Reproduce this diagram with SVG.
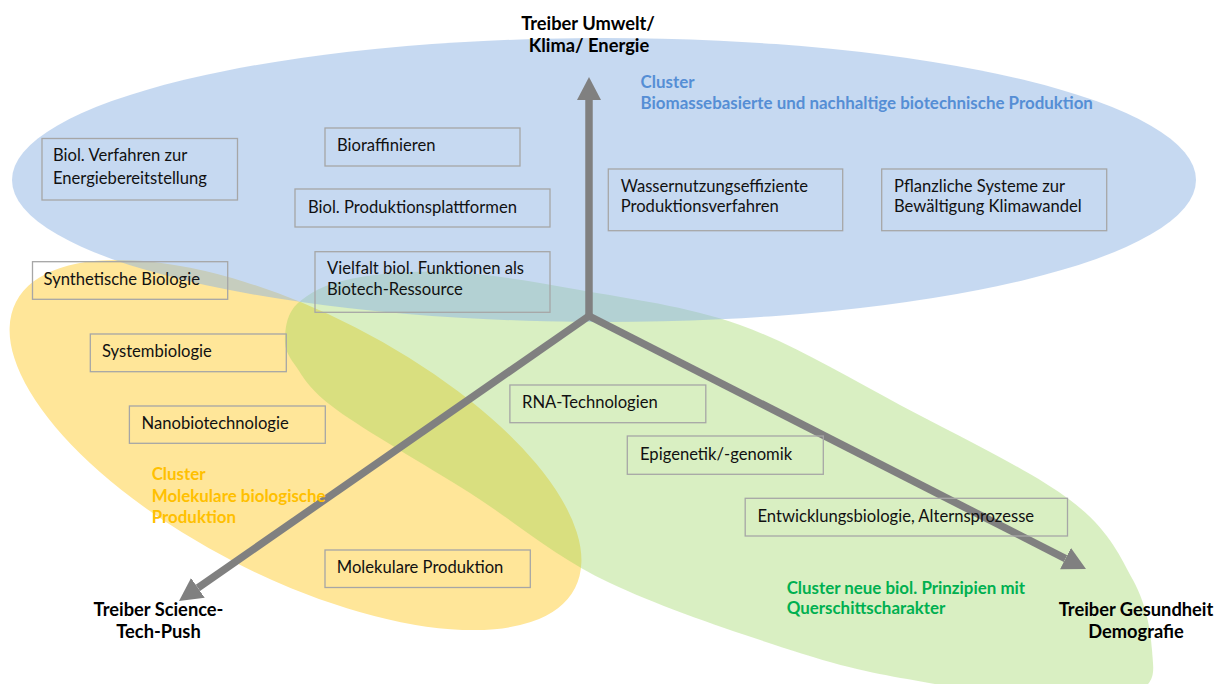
<svg xmlns="http://www.w3.org/2000/svg" width="1222" height="684" viewBox="0 0 1222 684">
<defs>
<style>
.bg{fill:#ffffff}
.box rect{fill:none;stroke:#A6A6A6;stroke-width:1.3}
.box text{font-family:Lato,"Liberation Sans",sans-serif;font-size:16.6px;fill:#111111}
.drv{font-family:Lato,"Liberation Sans",sans-serif;font-weight:bold;font-size:18.3px;fill:#000000;text-anchor:middle}
.cl{font-family:Lato,"Liberation Sans",sans-serif;font-weight:bold;font-size:16.9px}
.axis{stroke:#808080;stroke-width:7.5;fill:none}
</style>
<marker id="ah" viewBox="0 0 23 24" refX="0" refY="12" markerWidth="23" markerHeight="24" markerUnits="userSpaceOnUse" orient="auto">
<path d="M0,0 L23,12 L0,24 Z" fill="#808080"/>
</marker>
</defs>
<rect class="bg" x="0" y="0" width="1222" height="684"/>
<g id="clusters">
<ellipse id="cluster-yellow" cx="295.5" cy="445" rx="314" ry="132" transform="rotate(27.1 295.5 445)" fill="#FFE699"/>
<path id="cluster-green" fill="#92D050" fill-opacity="0.35" d="M285,337 C285.5,326.7 287.2,312.7 298,303 C308.8,293.3 324.7,284.2 350,279 C375.3,273.8 411.7,270.2 450,272 C488.3,273.8 531.7,281.2 580,290 C628.3,298.8 686.7,305.8 740,325 C793.3,344.2 845,375.8 900,405 C955,434.2 1031.2,470.8 1070,500 C1108.8,529.2 1119.3,555 1133,580 C1146.7,605 1150.8,631.7 1152,650 C1153.2,668.3 1157,681.2 1140,690 C1123,698.8 1083.3,703.8 1050,703 C1016.7,702.2 979.5,692.7 940,685 C900.5,677.3 868,674 813,657 C757.8,639.7 667.2,610.3 610,583 C552.8,555.7 515.5,521.8 470,493 C424.5,464.2 366.2,431.3 337,410 C307.8,388.7 303.7,377.2 295,365 C286.3,352.8 284.5,347.3 285,337 Z"/>
<ellipse id="cluster-blue" cx="604" cy="180" rx="592" ry="142" fill="#8EB4E3" fill-opacity="0.5"/>
</g>
<g id="connectors">
<path class="axis" d="M589,316 L589,100" marker-end="url(#ah)"/>
<path class="axis" d="M589,316 L197.9,587.9" marker-end="url(#ah)"/>
<path class="axis" d="M589,316 L1065.5,558.6" marker-end="url(#ah)"/>
<circle cx="589" cy="316" r="3.75" fill="#808080"/>
</g>
<g id="n-energie" class="box"><rect x="42" y="138.5" width="195.5" height="61.5"/><text><tspan x="53" y="161">Biol. Verfahren zur</tspan><tspan x="53" y="184">Energiebereitstellung</tspan></text></g>
<g id="n-bioraff" class="box"><rect x="325" y="128" width="195" height="38"/><text x="337" y="151">Bioraffinieren</text></g>
<g id="n-plattformen" class="box"><rect x="295" y="189" width="255" height="38"/><text x="308" y="213">Biol. Produktionsplattformen</text></g>
<g id="n-vielfalt" class="box"><rect x="315" y="251.7" width="235" height="60.6"/><text><tspan x="327" y="274">Vielfalt biol. Funktionen als</tspan><tspan x="327" y="295">Biotech-Ressource</tspan></text></g>
<g id="n-wasser" class="box"><rect x="608.3" y="169" width="234.4" height="61.7"/><text><tspan x="620.7" y="192">Wassernutzungseffiziente</tspan><tspan x="620.7" y="212">Produktionsverfahren</tspan></text></g>
<g id="n-pflanzen" class="box"><rect x="881.7" y="169" width="225" height="61.7"/><text><tspan x="894" y="192">Pflanzliche Systeme zur</tspan><tspan x="894" y="212">Bewältigung Klimawandel</tspan></text></g>
<g id="n-synth" class="box"><rect x="32.5" y="261.7" width="195.2" height="37.6"/><text x="43.6" y="285">Synthetische Biologie</text></g>
<g id="n-system" class="box"><rect x="90.3" y="334" width="196" height="37.7"/><text x="102" y="357">Systembiologie</text></g>
<g id="n-nano" class="box"><rect x="129.4" y="406" width="195.9" height="37.3"/><text x="141.6" y="429">Nanobiotechnologie</text></g>
<g id="n-molprod" class="box"><rect x="325" y="550" width="205.3" height="37.5"/><text x="336.8" y="573">Molekulare Produktion</text></g>
<g id="n-rna" class="box"><rect x="509.9" y="385" width="195.9" height="37.7"/><text x="522" y="407.5">RNA-Technologien</text></g>
<g id="n-epi" class="box"><rect x="627.3" y="436" width="196" height="38.3"/><text x="640" y="459.5">Epigenetik/-genomik</text></g>
<g id="n-entw" class="box"><rect x="745.2" y="498.3" width="322.3" height="37.7"/><text x="757.5" y="522">Entwicklungsbiologie, Alternsprozesse</text></g>
<g id="lbl-umwelt"><text class="drv"><tspan x="588" y="30">Treiber Umwelt/</tspan><tspan x="589" y="51.5">Klima/ Energie</tspan></text></g>
<g id="lbl-science"><text class="drv"><tspan x="158.5" y="616">Treiber Science-</tspan><tspan x="158.5" y="638">Tech-Push</tspan></text></g>
<g id="lbl-gesundheit"><text class="drv"><tspan x="1136" y="616">Treiber Gesundheit</tspan><tspan x="1136" y="637.5">Demografie</tspan></text></g>
<g id="lbl-cluster-blue"><text class="cl" fill="#558ED5"><tspan x="640.6" y="88.3">Cluster</tspan><tspan x="640.6" y="109.3">Biomassebasierte und nachhaltige biotechnische Produktion</tspan></text></g>
<g id="lbl-cluster-yellow"><text class="cl" fill="#FFC000"><tspan x="151.7" y="480">Cluster</tspan><tspan x="151.7" y="501.7">Molekulare biologische</tspan><tspan x="151.7" y="523.3">Produktion</tspan></text></g>
<g id="lbl-cluster-green"><text class="cl" fill="#00B050"><tspan x="786.7" y="594">Cluster neue biol. Prinzipien mit</tspan><tspan x="786.7" y="614">Querschittscharakter</tspan></text></g>
</svg>
